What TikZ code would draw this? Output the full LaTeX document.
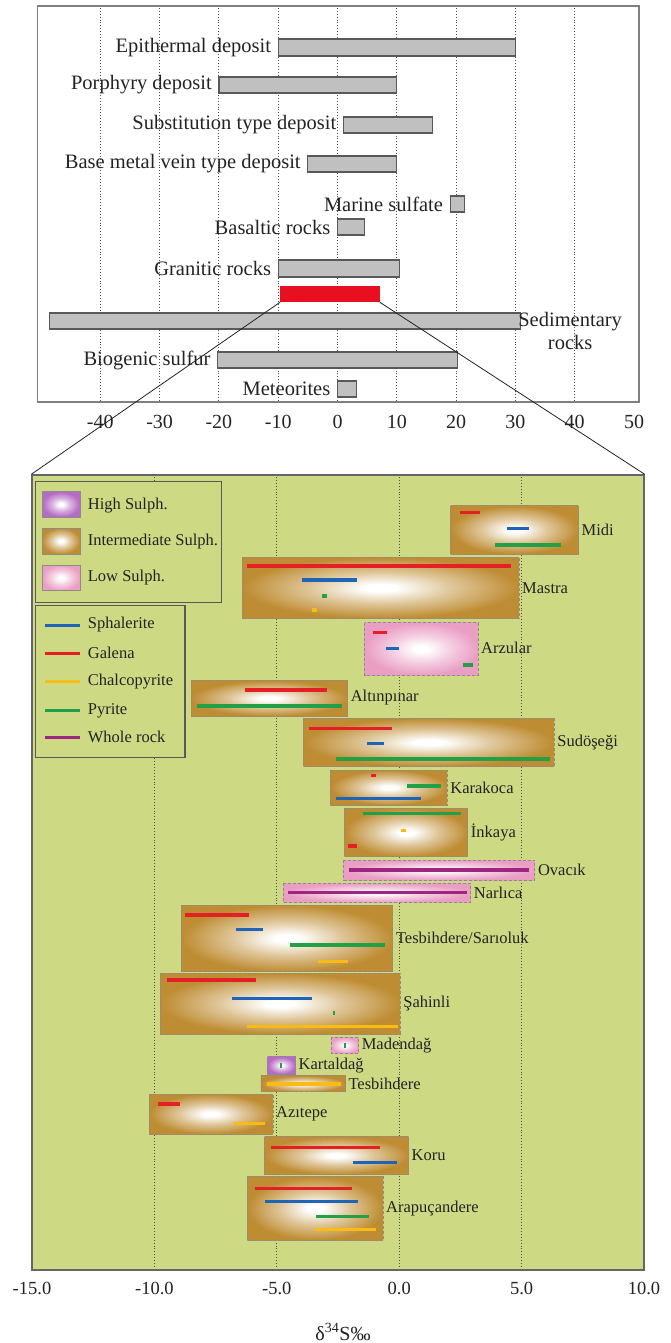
\documentclass[tikz,border=0pt]{standalone}
\usepackage{fontspec}
\setmainfont{Liberation Serif}
\usetikzlibrary{positioning}

\definecolor{panelgreen}{RGB}{206,217,131}
\definecolor{intbrown}{RGB}{190,140,50}
\definecolor{lowpink}{RGB}{234,158,196}
\definecolor{highpurple}{RGB}{182,108,196}
\definecolor{sphcol}{RGB}{30,100,185}
\definecolor{galcol}{RGB}{228,32,38}
\definecolor{cpycol}{RGB}{250,188,20}
\definecolor{pyrcol}{RGB}{34,160,72}
\definecolor{wrcol}{RGB}{158,38,128}
\definecolor{barred}{RGB}{232,16,32}
\definecolor{bargray}{RGB}{192,192,192}
\definecolor{inkgray}{RGB}{35,35,35}

\pgfdeclareradialshading{intsulph}{\pgfpoint{0bp}{0bp}}{color(0bp)=(white); color(3bp)=(white); color(13bp)=(intbrown!50!white); color(25bp)=(intbrown); color(50bp)=(intbrown)}
\pgfdeclareradialshading{lowsulph}{\pgfpoint{0bp}{0bp}}{color(0bp)=(white); color(3bp)=(white); color(13bp)=(lowpink!50!white); color(25bp)=(lowpink); color(50bp)=(lowpink)}
\pgfdeclareradialshading{highsulph}{\pgfpoint{0bp}{0bp}}{color(0bp)=(white); color(3bp)=(white); color(12bp)=(highpurple!50!white); color(24bp)=(highpurple); color(50bp)=(highpurple)}

\tikzset{
  frame line/.style={draw=black!50, line width=1.4pt},
  grid line/.style={dotted, line width=0.9pt, draw=inkgray!80},
  range bar/.style={draw=black!65, fill=bargray, line width=1.2pt},
  src label/.style={anchor=east, xshift=-7pt, inner sep=0pt, text=inkgray,
    font=\fontsize{20.5}{23}\selectfont},
  tick label/.style={inner sep=0pt, text=inkgray, font=\fontsize{20}{23}\selectfont},
  zone/.style={shade, draw=black!45, densely dashed, line width=0.7pt},
  intbox/.style={zone, shading=intsulph},
  lowbox/.style={zone, shading=lowsulph},
  highbox/.style={zone, shading=highsulph},
  mineral/.style={line width=3.4pt},
  sph/.style={mineral, draw=sphcol},
  gal/.style={mineral, draw=galcol},
  cpy/.style={mineral, draw=cpycol},
  pyr/.style={mineral, draw=pyrcol},
  wr/.style={mineral, draw=wrcol},
  site/.style={anchor=west, xshift=3pt, inner sep=0pt, text=inkgray,
    font=\fontsize{16.5}{19}\selectfont},
  legend frame/.style={fill=panelgreen, draw=black!65, line width=1.3pt},
  legend text/.style={anchor=west, inner sep=0pt, text=inkgray,
    font=\fontsize{16.5}{19}\selectfont},
  zoom line/.style={draw=inkgray, line width=0.8pt}
}

\begin{document}
\begin{tikzpicture}[x=1pt, y=-1pt]
  \useasboundingbox (0,0) rectangle (671,1343);

  % upper panel: sulphur sources
  \draw[frame line] (37.7,6) rectangle (638.9,402);
  \begin{scope}[xshift=337.5pt, x=5.93pt]
    \foreach \v in {-40,-30,...,40}
      \draw[grid line] (\v,8) -- (\v,400);
    \foreach \v in {-40,-30,...,50}
      \node[tick label] at (\v,422) {\v};
    \draw[range bar] (-10,39) rectangle (30,56);
    \node[src label] at (-10,47.5) {Epithermal deposit};
    \draw[range bar] (-20,77) rectangle (10,93);
    \node[src label] at (-20,85) {Porphyry deposit};
    \draw[range bar] (1,117) rectangle (16,133);
    \node[src label] at (1,125) {Substitution type deposit};
    \draw[range bar] (-5,156) rectangle (10,172);
    \node[src label] at (-5,164) {Base metal vein type deposit};
    \draw[range bar] (19,196) rectangle (21.4,212);
    \node[src label] at (19,204) {Marine sulfate};
    \draw[range bar] (0,219) rectangle (4.6,235);
    \node[src label] at (0,227) {Basaltic rocks};
    \draw[range bar] (-10,260) rectangle (10.5,277);
    \node[src label] at (-10,268.5) {Granitic rocks};
    \draw[range bar] (-48.5,313) rectangle (30.8,329);
    \node[src label, anchor=west, xshift=5pt, align=center] at (30.8,331) {Sedimentary\\rocks};
    \draw[range bar] (-20.2,352) rectangle (20.3,368);
    \node[src label] at (-20.2,360) {Biogenic sulfur};
    \draw[range bar] (0,381) rectangle (3.2,397);
    \node[src label] at (0,389) {Meteorites};
  \end{scope}
  \node[fill=barred, inner sep=0pt, minimum width=99.2pt, minimum height=16pt] (focus) at (329.9,294) {};

  % lower panel: deposits
  \node[fill=panelgreen, draw=black!60, line width=1.4pt, inner sep=0pt,
    minimum width=612pt, minimum height=795pt] (detail) at (338,872.5) {};
  \begin{scope}[xshift=399.2pt, x=24.48pt]
    \foreach \v in {-10,-5,0,5}
      \draw[grid line] (\v,477) -- (\v,1268);
    \foreach \v/\t in {-15/-15.0,-10/-10.0,-5/-5.0,0/0.0,5/5.0,10/10.0}
      \node[tick label, font=\fontsize{18.5}{21}\selectfont] at (\v,1288) {\t};
  \end{scope}

  % legends
  \draw[legend frame] (35.5,481.7) rectangle (221.6,602.7);
  \draw[highbox, solid] (42,491.7) rectangle (80,517);
  \node[legend text] at (87.7,506) {High Sulph.};
  \draw[intbox, solid] (42,528) rectangle (80,554);
  \node[legend text] at (87.7,542) {Intermediate Sulph.};
  \draw[lowbox, solid] (42,565) rectangle (80,590.7);
  \node[legend text] at (87.7,578) {Low Sulph.};
  \draw[legend frame] (35.5,605.7) rectangle (184.9,757.3);
  \draw[sph, line width=3pt] (45,625) -- (80,625);
  \node[legend text] at (87.7,625) {Sphalerite};
  \draw[gal, line width=3pt] (45,653) -- (80,653);
  \node[legend text] at (87.7,653) {Galena};
  \draw[cpy, line width=3pt] (45,681.7) -- (80,681.7);
  \node[legend text] at (87.7,681.7) {Chalcopyrite};
  \draw[pyr, line width=3pt] (45,710.7) -- (80,710.7);
  \node[legend text] at (87.7,710.7) {Pyrite};
  \draw[wr, line width=3pt] (45,737.3) -- (80,737.3);
  \node[legend text] at (87.7,737.3) {Whole rock};

  \begin{scope}[xshift=399.2pt, x=24.48pt]
    % Midi
    \draw[intbox] (2.1,505.7) rectangle (7.32,554);
    \draw[gal] (2.5,512.3) -- (3.3,512.3);
    \draw[sph] (4.4,528.3) -- (5.3,528.3);
    \draw[pyr] (3.9,545) -- (6.6,545);
    \node[site] at (7.32,530) {Midi};
    % Mastra
    \draw[intbox] (-6.4,557.3) rectangle (4.89,618.3);
    \draw[gal] (-6.2,566) -- (4.58,566);
    \draw[sph] (-3.98,580) -- (-1.71,580);
    \draw[pyr] (-3.16,596) -- (-2.94,596);
    \draw[cpy] (-3.55,610) -- (-3.34,610);
    \node[site] at (4.89,588) {Mastra};
    % Arzular
    \draw[lowbox] (-1.41,622.7) rectangle (3.22,675);
    \draw[gal] (-1.07,632.3) -- (-0.49,632.3);
    \draw[sph] (-0.52,648.3) -- (-0.02,648.3);
    \draw[pyr] (2.6,665) -- (3.0,665);
    \node[site] at (3.22,648) {Arzular};
    % Altinpinar
    \draw[intbox] (-8.49,680.7) rectangle (-2.11,716);
    \draw[gal] (-6.29,690) -- (-2.94,690);
    \draw[pyr] (-8.27,706) -- (-2.32,706);
    \node[site] at (-2.11,698) {Altınpınar};
    % Sudosegi
    \draw[intbox] (-3.9,718.3) rectangle (6.33,766.7);
    \draw[gal] (-3.69,728.7) -- (-0.31,728.7);
    \draw[sph] (-1.31,743.3) -- (-0.61,743.3);
    \draw[pyr] (-2.59,759) -- (6.15,759);
    \node[site] at (6.33,742.5) {Sudöşeği};
    % Karakoca
    \draw[intbox] (-2.8,770) rectangle (1.96,805);
    \draw[gal] (-1.17,775.7) -- (-0.93,775.7);
    \draw[pyr] (0.33,786) -- (1.70,786);
    \draw[sph] (-2.59,798.7) -- (0.88,798.7);
    \node[site] at (1.96,788) {Karakoca};
    % Inkaya
    \draw[intbox] (-2.24,808.3) rectangle (2.8,856.7);
    \draw[pyr] (-1.48,813.7) -- (2.52,813.7);
    \draw[cpy] (0.09,830.7) -- (0.26,830.7);
    \draw[gal] (-2.1,846) -- (-1.71,846);
    \node[site] at (2.8,832.5) {İnkaya};
    % Ovacik
    \draw[lowbox] (-2.27,860) rectangle (5.54,880);
    \draw[wr] (-2.06,870) -- (5.31,870);
    \node[site] at (5.54,870) {Ovacık};
    % Narlica
    \draw[lowbox] (-4.73,883.3) rectangle (2.92,902.3);
    \draw[wr] (-4.54,892.7) -- (2.75,892.7);
    \node[site] at (2.92,893) {Narlıca};
    % Tesbihdere/Sarioluk
    \draw[intbox] (-8.91,905) rectangle (-0.26,971.7);
    \draw[gal] (-8.74,915) -- (-6.12,915);
    \draw[sph] (-6.66,929.3) -- (-5.56,929.3);
    \draw[pyr] (-4.47,945) -- (-0.58,945);
    \draw[cpy] (-3.32,961.7) -- (-2.11,961.7);
    \node[site] at (-0.26,938) {Tesbihdere/Sarıoluk};
    % Sahinli
    \draw[intbox] (-9.75,973.3) rectangle (0.04,1034);
    \draw[gal] (-9.49,980) -- (-5.85,980);
    \draw[sph] (-6.82,998.3) -- (-3.58,998.3);
    \draw[pyr, line width=2pt] (-2.67,1010.5) -- (-2.67,1015);
    \draw[cpy] (-6.2,1026.7) -- (-0.05,1026.7);
    \node[site] at (0.04,1004) {Şahinli};
    % Madendag
    \draw[lowbox] (-2.79,1037.3) rectangle (-1.66,1053.3);
    \draw[pyr, line width=2pt] (-2.22,1043) -- (-2.22,1048);
    \node[site] at (-1.66,1045.5) {Madendağ};
    % Kartaldag
    \draw[highbox] (-5.38,1056.7) rectangle (-4.24,1074);
    \draw[pyr, line width=2pt] (-4.81,1063) -- (-4.81,1068);
    \node[site] at (-4.24,1065.5) {Kartaldağ};
    % Tesbihdere
    \draw[intbox] (-5.65,1075.7) rectangle (-2.2,1091.7);
    \draw[cpy] (-5.42,1084) -- (-2.36,1084);
    \node[site] at (-2.2,1084) {Tesbihdere};
    % Azitepe
    \draw[intbox] (-10.22,1094) rectangle (-5.16,1134);
    \draw[gal] (-9.84,1104) -- (-8.97,1104);
    \draw[cpy] (-6.75,1123.3) -- (-5.47,1123.3);
    \node[site] at (-5.16,1114) {Azıtepe};
    % Koru
    \draw[intbox] (-5.5,1136.7) rectangle (0.38,1174.3);
    \draw[gal] (-5.24,1147.7) -- (-0.8,1147.7);
    \draw[sph] (-1.89,1162.7) -- (-0.09,1162.7);
    \node[site] at (0.38,1155.5) {Koru};
    % Arapucandere
    \draw[intbox] (-6.2,1176.7) rectangle (-0.66,1240);
    \draw[gal] (-5.91,1188.3) -- (-1.92,1188.3);
    \draw[sph] (-5.47,1201.7) -- (-1.68,1201.7);
    \draw[pyr] (-3.41,1216.7) -- (-1.24,1216.7);
    \draw[cpy] (-3.46,1229.3) -- (-0.93,1229.3);
    \node[site] at (-0.66,1208.3) {Arapuçandere};
  \end{scope}

  \node[tick label] (title) at (343,1332) {δ\textsuperscript{34}S‰};

  % zoom from the red range to the lower panel
  \draw[zoom line] (focus.south west) -- (detail.north west);
  \draw[zoom line] (focus.south east) -- (detail.north east);
\end{tikzpicture}
\end{document}
